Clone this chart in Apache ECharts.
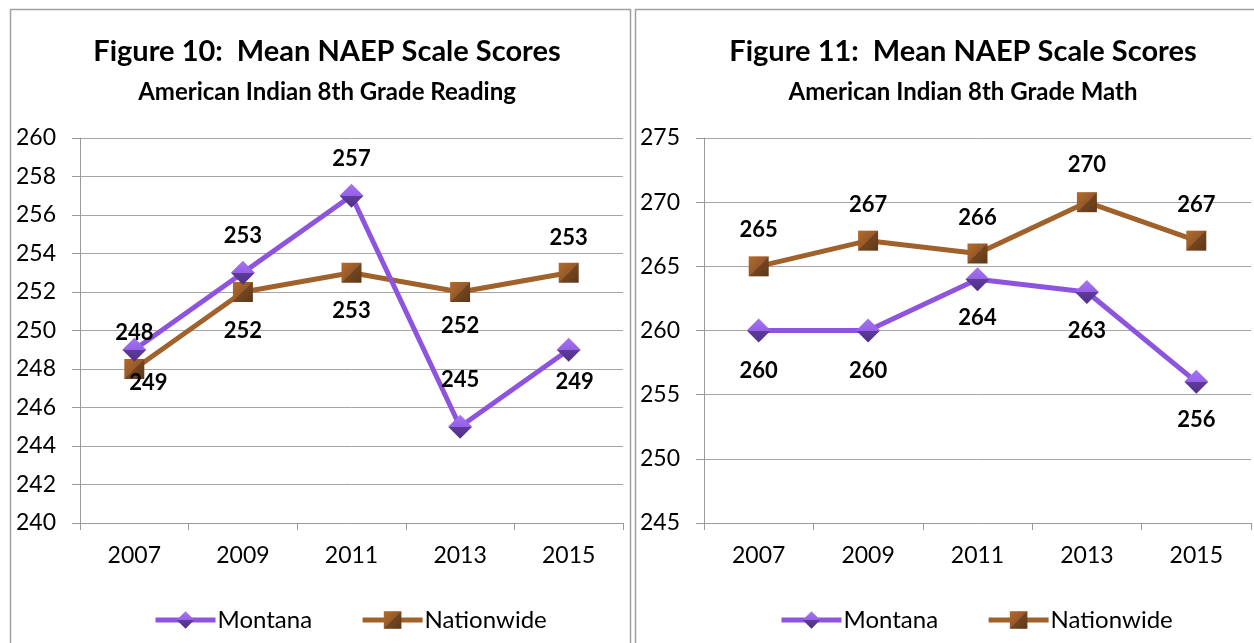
<!DOCTYPE html>
<html>
<head>
<meta charset="utf-8">
<script src="https://cdn.jsdelivr.net/npm/echarts@6/dist/echarts.min.js"></script>
<style>
  html, body { margin: 0; padding: 0; background: #fff; }
  #main { width: 1254px; height: 643px; }
</style>
</head>
<body>
<div id="main"></div>
<script>
// NAEP scale scores, two panels

var years = ['2007', '2009', '2011', '2013', '2015'];

// Figure 10 - reading
var readingMontana = [249, 253, 257, 245, 249];
var readingNation = [248, 252, 253, 252, 253];
// label texts as printed on the original chart
var readingMontanaText = ['248', '253', '257', '245', '249'];
var readingNationText = ['249', '252', '253', '252', '253'];

// Figure 11 - math
var mathMontana = [260, 260, 264, 263, 256];
var mathNation = [265, 267, 266, 270, 267];
var mathMontanaText = ['260', '260', '264', '263', '256'];
var mathNationText = ['265', '267', '266', '270', '267'];

var readingTicks = { min: 240, max: 260, interval: 2 };
var mathTicks = { min: 245, max: 275, interval: 5 };

var dom = document.getElementById('main');
var myChart = echarts.init(dom, null, { renderer: 'canvas' });

var font = 'Lato, "Open Sans", sans-serif';
var purple = '#8e54e0';
var brown = '#a0612a';

var diamondFill = new echarts.graphic.LinearGradient(0, 0, 0, 1, [
    { offset: 0, color: '#a674f2' },
    { offset: 0.5, color: '#9560e6' },
    { offset: 0.5, color: '#5f3b9c' },
    { offset: 1, color: '#4f3084' }
]);
var squareFill = new echarts.graphic.LinearGradient(0, 0, 1, 1, [
    { offset: 0, color: '#b26d2c' },
    { offset: 0.5, color: '#96592a' },
    { offset: 0.5, color: '#74461f' },
    { offset: 1, color: '#5c381a' }
]);

// label placement offsets [dx, dy] from marker centre
var offReadM = [[0, -17], [0, -37], [0, -37], [0, -47], [6, 32]];
var offReadN = [[14, 14], [0, 39], [0, 38], [0, 34], [0, -35]];
var offMathM = [[0, 40], [0, 40], [0, 39], [0, 39], [0, 38]];
var offMathN = [[0, -36], [0, -36], [0, -36], [0, -37], [0, -36]];

function points(values, texts, offsets) {
    return values.map(function (v, i) {
        return {
            value: v,
            label: { offset: offsets[i], formatter: texts[i] }
        };
    });
}

function lineSeries(name, idx, values, texts, offsets, isMontana) {
    return {
        name: name,
        type: 'line',
        xAxisIndex: idx,
        yAxisIndex: idx,
        data: points(values, texts, offsets),
        symbol: isMontana ? 'diamond' : 'rect',
        symbolSize: isMontana ? [24, 24] : [20, 20],
        showAllSymbol: true,
        lineStyle: { color: isMontana ? purple : brown, width: 5 },
        itemStyle: { color: isMontana ? diamondFill : squareFill, borderWidth: 0 },
        label: {
            show: true,
            position: 'inside',
            color: '#000',
            fontFamily: font,
            fontWeight: 'bold',
            fontSize: 22
        },
        emphasis: { disabled: true },
        animation: false,
        z: isMontana ? 3 : 2
    };
}

function catAxis(idx) {
    return {
        type: 'category',
        gridIndex: idx,
        data: years,
        boundaryGap: true,
        axisLine: { lineStyle: { color: '#9a9a9a', width: 1 } },
        axisTick: { show: true, length: 7, lineStyle: { color: '#9a9a9a' } },
        axisLabel: { color: '#000', fontFamily: font, fontSize: 23, margin: 21 }
    };
}

function valAxis(idx, t) {
    return {
        type: 'value',
        gridIndex: idx,
        min: t.min,
        max: t.max,
        interval: t.interval,
        axisLine: { show: true, lineStyle: { color: '#9a9a9a', width: 1 } },
        axisTick: { show: true, length: 8, lineStyle: { color: '#9a9a9a' } },
        splitLine: { show: true, lineStyle: { color: '#a6a6a6', width: 1 } },
        axisLabel: { color: '#000', fontFamily: font, fontSize: 23, margin: 24 }
    };
}

function legendAt(x) {
    return {
        data: ['Montana', 'Nationwide'],
        left: x, top: 608,
        padding: 0,
        orient: 'horizontal',
        itemWidth: 60, itemHeight: 22, itemGap: 48,
        lineStyle: { width: 5 },
        textStyle: { color: '#000', fontFamily: font, fontSize: 24, padding: [0, 0, 0, -3] },
        selectedMode: false
    };
}

function titleAt(x, text, sub) {
    return {
        text: text,
        subtext: sub,
        left: x, top: 32, textAlign: 'center', itemGap: 14,
        textStyle: { color: '#000', fontFamily: font, fontWeight: 'bold', fontSize: 29 },
        subtextStyle: { color: '#000', fontFamily: font, fontWeight: 'bold', fontSize: 24 }
    };
}

var option = {
    backgroundColor: '#fff',
    animation: false,
    graphic: [
        { type: 'rect', shape: { x: 10.5, y: 9.5, width: 620, height: 700 },
          style: { fill: 'none', stroke: '#a0a0a0', lineWidth: 1.5 }, silent: true },
        { type: 'rect', shape: { x: 635.5, y: 9.5, width: 700, height: 700 },
          style: { fill: 'none', stroke: '#a0a0a0', lineWidth: 1.5 }, silent: true }
    ],
    title: [
        titleAt(322, 'Figure 10:  Mean NAEP Scale Scores', 'American Indian 8th Grade Reading'),
        titleAt(958, 'Figure 11:  Mean NAEP Scale Scores', 'American Indian 8th Grade Math')
    ],
    legend: [legendAt(153), legendAt(779)],
    grid: [
        { left: 80, right: 631, top: 138, bottom: 120 },
        { left: 704, right: 3, top: 138, bottom: 120 }
    ],
    xAxis: [catAxis(0), catAxis(1)],
    yAxis: [valAxis(0, readingTicks), valAxis(1, mathTicks)],
    series: [
        lineSeries('Montana', 0, readingMontana, readingMontanaText, offReadM, true),
        lineSeries('Nationwide', 0, readingNation, readingNationText, offReadN, false),
        lineSeries('Montana', 1, mathMontana, mathMontanaText, offMathM, true),
        lineSeries('Nationwide', 1, mathNation, mathNationText, offMathN, false)
    ]
};

if (option && typeof option === 'object') {
    myChart.setOption(option);
}
</script>
</body>
</html>
